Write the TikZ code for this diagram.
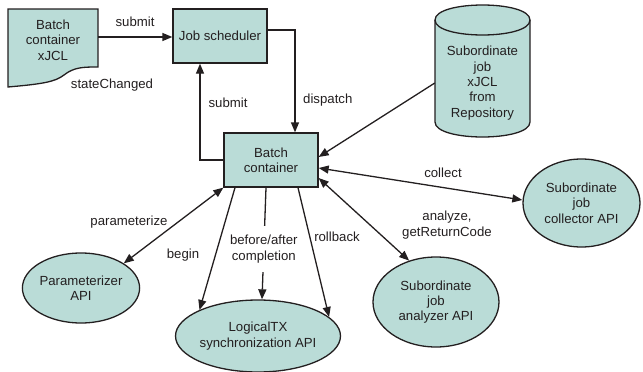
\documentclass[tikz,border=0pt]{standalone}
\usepackage{fontspec}
\setmainfont{Liberation Sans}
\usetikzlibrary{shapes.geometric,arrows.meta}
\definecolor{tealfill}{HTML}{BADCD7}
\definecolor{ink}{HTML}{231F20}
\tikzset{
  every node/.style={font=\fontsize{13.2}{15.3}\selectfont, text=ink},
  boxnode/.style={draw=ink, line width=1.3pt, fill=tealfill, rectangle,
    minimum width=94pt, minimum height=54pt, inner sep=0pt, align=center},
  apinode/.style={draw=ink, line width=1.3pt, fill=tealfill, ellipse,
    inner sep=0pt, align=center},
  plainnode/.style={inner sep=0pt, align=center},
  lbl/.style={inner sep=1pt, align=center},
  conn/.style={draw=ink, line width=1.3pt},
  arr/.style={conn, -{Triangle[length=10pt,width=8pt]}},
  darr/.style={conn, {Triangle[length=10pt,width=8pt]}-{Triangle[length=10pt,width=8pt]}},
}
\begin{document}
\begin{tikzpicture}[x=1pt,y=-1pt]
\useasboundingbox (0,0) rectangle (643,372);

% xJCL document with a wavy lower edge
\draw[ink, line width=1.3pt, fill=tealfill]
  (8,9) -- (98,9) -- (98,67)
  .. controls (84,67) and (74,67) .. (64,75)
  .. controls (55,82) and (42,84) .. (8,87) -- cycle;
\node[plainnode, minimum width=90pt, minimum height=56pt] (doc) at (53,40)
  {Batch\\container\\xJCL};

% repository cylinder
\draw[ink, line width=1.3pt, fill=tealfill]
  (435,20) -- (435,122) .. controls (435,142) and (530,142) .. (530,122)
  -- (530,20) .. controls (530,0) and (435,0) .. (435,20) -- cycle;
\draw[ink, line width=1.3pt] (435,20) .. controls (435,40) and (530,40) .. (530,20);
\node[plainnode, minimum width=95pt, minimum height=108pt] (repo) at (482.5,83)
  {Subordinate\\job\\xJCL\\from\\Repository};

% boxes
\node[boxnode] (js) at (220,36) {Job scheduler};
\node[boxnode] (bc) at (271,160) {Batch\\container};

% API ellipses
\node[apinode, minimum width=112pt, minimum height=70pt] (param) at (81,288) {Parameterizer\\API};
\node[apinode, minimum width=134pt, minimum height=72pt] (ltx) at (258,336) {LogicalTX\\synchronization API};
\node[apinode, minimum width=126pt, minimum height=90pt] (ana) at (436,302) {Subordinate\\job\\analyzer API};
\node[apinode, minimum width=117pt, minimum height=88pt] (coll) at (581.5,203) {Subordinate\\job\\collector API};

% connectors
\draw[arr] ([yshift=3pt]doc.east) -- ([yshift=-1pt]js.west);
\draw[arr] (bc.west) -| ([xshift=-20pt]js.south);
\draw[arr] ([yshift=6pt]js.east) -| ([xshift=24pt]bc.north);
\draw[arr] (repo.west) -- ([yshift=3pt]bc.east);
\draw[darr] ([yshift=-8pt]bc.east) -- ([yshift=3pt]coll.west);
\draw[darr] ([yshift=-18pt]bc.east) -- (ana.123);
\draw[arr] ([xshift=27pt]bc.south) -- (ltx.15);
\draw[arr] ([xshift=-36pt]bc.south) -- (ltx.156);
\draw[arr] ([xshift=-5pt]bc.south) -- node[pos=0.55, fill=white, inner xsep=1pt, inner ysep=9pt, align=center] (ba) {before/after\\completion} ([xshift=4pt]ltx.north);
\draw[darr] (bc.south west) -- (param.30);

% connector labels
\node[lbl] (l1) at (135,22) {submit};
\node[lbl] (l2) at (112,85) {stateChanged};
\node[lbl] (l3) at (228,103) {submit};
\node[lbl, anchor=west] (l4) at (302,100) {dispatch};
\node[lbl] (l5) at (443,173) {collect};
\node[lbl] (l6) at (447,225) {analyze,\\getReturnCode};
\node[lbl] (l7) at (337,237) {rollback};
\node[lbl] (l8) at (183,255) {begin};
\node[lbl] (l9) at (129,222) {parameterize};
\end{tikzpicture}
\end{document}
